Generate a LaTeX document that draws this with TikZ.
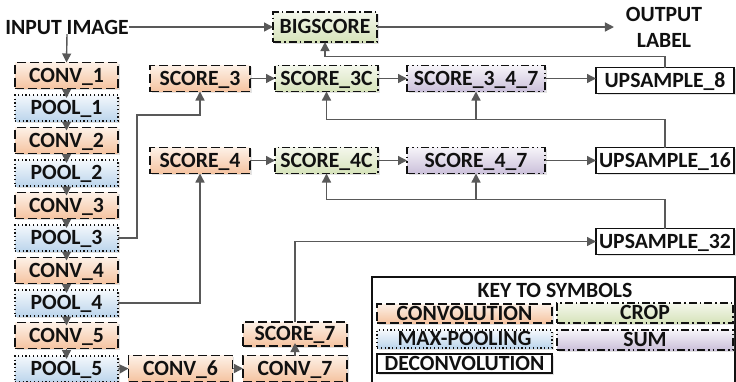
\documentclass[tikz,border=0pt]{standalone}
\usepackage{fontspec}
\setmainfont{Carlito}
\usetikzlibrary{arrows.meta,shadows}
\definecolor{ink}{HTML}{111111}
\definecolor{wireink}{HTML}{595959}
\definecolor{convtop}{HTML}{FDF1E7}
\definecolor{convbot}{HTML}{F5C3A0}
\definecolor{pooltop}{HTML}{F4F8FC}
\definecolor{poolbot}{HTML}{BCD5EC}
\definecolor{croptop}{HTML}{F4F7EC}
\definecolor{cropbot}{HTML}{D6E3BA}
\definecolor{sumtop}{HTML}{F6F4F9}
\definecolor{sumbot}{HTML}{CBC0DA}
\tikzset{
  block/.style={minimum height=26bp,text height=13.5bp,text depth=0bp,font=\fontsize{21.7bp}{24bp}\selectfont\bfseries,text=ink,line width=1.5bp,
    drop shadow={opacity=0.22,shadow xshift=1.8bp,shadow yshift=-1.8bp}},
  conv/.style={block,draw=ink,top color=convtop,bottom color=convbot,dash pattern=on 9bp off 4bp},
  pool/.style={block,draw=ink,top color=pooltop,bottom color=poolbot,line width=1.3bp,dash pattern=on 1.2bp off 2.6bp},
  crop/.style={block,draw=ink,top color=croptop,bottom color=cropbot,dash pattern=on 8bp off 3bp on 1.5bp off 3bp},
  sum/.style={block,draw=ink,top color=sumtop,bottom color=sumbot,dash pattern=on 8bp off 3bp on 1.5bp off 3bp on 1.5bp off 3bp},
  deconv/.style={block,draw=ink,fill=white,line width=1.3bp},
  caption/.style={font=\fontsize{21.7bp}{26bp}\selectfont\bfseries,text=ink,align=center},
  wire/.style={draw=wireink,line width=1.4bp},
  arrow/.style={wire,-{Triangle[length=9bp,width=9bp]}}
}

\begin{document}
\begin{tikzpicture}[x=1bp,y=-1bp,every node/.style={inner sep=0pt,outer sep=0pt}]
\path[use as bounding box] (0,0) rectangle (736,381);
\clip (0,0) rectangle (736,381);

% backbone
\node[caption] (input-image) at (67,27) {INPUT IMAGE};
\node[conv,minimum width=103bp] (conv-1) at (66.5,75.5) {CONV\_1};
\node[pool,minimum width=103bp] (pool-1) at (66.5,108) {POOL\_1};
\node[conv,minimum width=103bp] (conv-2) at (66.5,140.5) {CONV\_2};
\node[pool,minimum width=103bp] (pool-2) at (66.5,173) {POOL\_2};
\node[conv,minimum width=103bp] (conv-3) at (66.5,205.5) {CONV\_3};
\node[pool,minimum width=103bp] (pool-3) at (66.5,238) {POOL\_3};
\node[conv,minimum width=103bp] (conv-4) at (66.5,270.5) {CONV\_4};
\node[pool,minimum width=103bp] (pool-4) at (66.5,303) {POOL\_4};
\node[conv,minimum width=103bp] (conv-5) at (66.5,335.5) {CONV\_5};
\node[pool,minimum width=103bp] (pool-5) at (66.5,369) {POOL\_5};
\node[conv,minimum width=104bp] (conv-6) at (180.5,368.5) {CONV\_6};
\node[conv,minimum width=104bp] (conv-7) at (295,368.5) {CONV\_7};
\node[conv,minimum width=104bp,minimum height=24bp] (score-7) at (295,334) {SCORE\_7};
\draw[arrow] (input-image.south) -- (conv-1.north);
\draw[arrow,shorten >=-3bp] (conv-1.south) -- (pool-1.north);
\draw[arrow,shorten >=-3bp] (pool-1.south) -- (conv-2.north);
\draw[arrow,shorten >=-3bp] (conv-2.south) -- (pool-2.north);
\draw[arrow,shorten >=-3bp] (pool-2.south) -- (conv-3.north);
\draw[arrow,shorten >=-3bp] (conv-3.south) -- (pool-3.north);
\draw[arrow,shorten >=-3bp] (pool-3.south) -- (conv-4.north);
\draw[arrow,shorten >=-3bp] (conv-4.south) -- (pool-4.north);
\draw[arrow,shorten >=-3bp] (pool-4.south) -- (conv-5.north);
\draw[arrow,shorten >=-3bp] (conv-5.south) -- (pool-5.north);
\draw[arrow] (pool-5.east) -- (conv-6.west);
\draw[arrow] (conv-6.east) -- (conv-7.west);
\draw[arrow,shorten >=-3bp] (conv-7.north) -- (score-7.south);

% score rows
\node[crop,minimum width=104bp,minimum height=30bp] (bigscore) at (325,27) {BIGSCORE};
\node[caption] (out-label) at (664,27) {OUTPUT\\LABEL};
\node[conv,minimum width=100bp] (score-3) at (200,78.5) {SCORE\_3};
\node[crop,minimum width=103bp] (score-3c) at (326.5,78.5) {SCORE\_3C};
\node[sum,minimum width=138bp] (sum-3-4-7) at (476,78.5) {SCORE\_3\_4\_7};
\node[deconv,minimum width=138bp] (up-8) at (665,80.5) {UPSAMPLE\_8};
\node[conv,minimum width=100bp] (score-4) at (200,160.5) {SCORE\_4};
\node[crop,minimum width=103bp] (score-4c) at (326.5,160.5) {SCORE\_4C};
\node[sum,minimum width=138bp] (sum-4-7) at (476,160.5) {SCORE\_4\_7};
\node[deconv,minimum width=138bp] (up-16) at (665,160.5) {UPSAMPLE\_16};
\node[deconv,minimum width=138bp] (up-32) at (665,241.5) {UPSAMPLE\_32};
\coordinate (tap-3) at (137,115);
\draw[arrow] (input-image.east) -- (bigscore.west);
\draw[arrow,shorten >=12bp] (bigscore.east) -- (out-label.west);
\draw[arrow] (pool-3.east) -| (tap-3) -| (score-3.south);
\draw[arrow] (pool-4.east) -| (score-4.south);
\draw[arrow] (score-3.east) -- (score-3c.west);
\draw[arrow] (score-3c.east) -- (sum-3-4-7.west);
\draw[arrow] (sum-3-4-7.east) -- (up-8.west |- sum-3-4-7.east);
\draw[arrow] (score-4.east) -- (score-4c.west);
\draw[arrow] (score-4c.east) -- (sum-4-7.west);
\draw[arrow] (sum-4-7.east) -- (up-16.west);
\draw[arrow] (up-8.north) -- ++(0,-11) -| (bigscore.south);
\draw[arrow] (up-16.north) -- ++(0,-28) coordinate (bus-16) -| (score-3c.south);
\draw[arrow] (sum-3-4-7.south |- bus-16) -- (sum-3-4-7.south);
\draw[arrow] (up-32.north) -- ++(0,-29) coordinate (bus-32) -| (score-4c.south);
\draw[arrow] (sum-4-7.south |- bus-32) -- (sum-4-7.south);
\draw[arrow] (score-7.north) |- (up-32.west);

% key
\node[draw=ink,line width=1.3bp,minimum width=363bp,minimum height=106bp] (key-frame) at (553.5,330) {};
\node[caption] (key-title) at (555,290) {KEY TO SYMBOLS};
\node[conv,minimum width=175bp,minimum height=19bp,drop shadow={opacity=0}] (key-conv) at (464.5,313.5) {CONVOLUTION};
\node[pool,minimum width=175bp,minimum height=18bp,drop shadow={opacity=0}] (key-pool) at (464.5,339) {MAX-POOLING};
\node[deconv,minimum width=175bp,minimum height=19bp,drop shadow={opacity=0}] (key-deconv) at (464.5,363.5) {DECONVOLUTION};
\node[crop,minimum width=176bp,minimum height=20bp,drop shadow={opacity=0}] (key-crop) at (645,313) {CROP};
\node[sum,minimum width=176bp,minimum height=20bp,drop shadow={opacity=0}] (key-sum) at (645,340) {SUM};
\end{tikzpicture}
\end{document}
